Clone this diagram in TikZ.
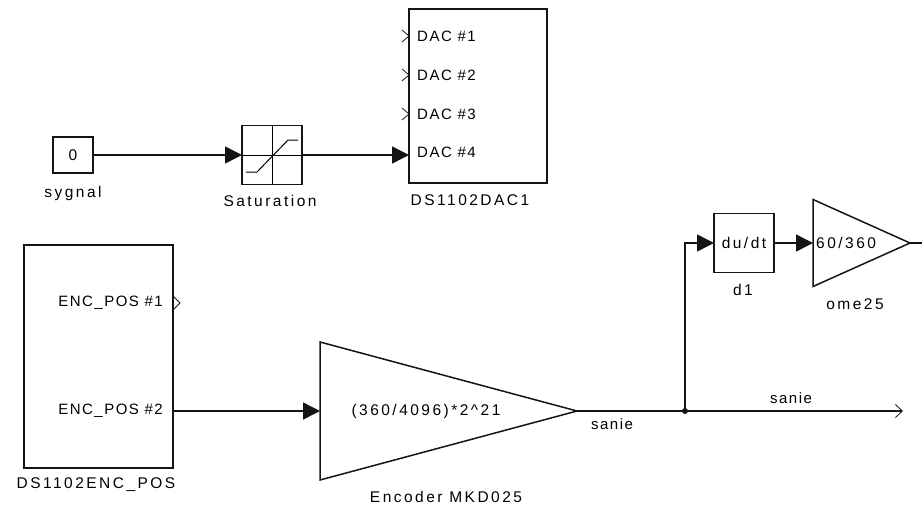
\documentclass[tikz,border=0pt]{standalone}
\usepackage{fontspec}
\usepackage{tikz}
\usetikzlibrary{arrows.meta,positioning,shapes.geometric}
\setmainfont{Liberation Sans}
\newfontfamily\blockfont[LetterSpace=10]{Liberation Sans}
\newfontfamily\capfont[LetterSpace=16]{Liberation Sans}
\definecolor{wire}{RGB}{20,20,20}
\tikzset{
  block/.style={draw=wire,line width=1.5pt,inner sep=0pt,outer sep=0pt,font=\capfont\fontsize{15.5}{17}\selectfont},
  gainblock/.style={draw=wire,line width=1.5pt,inner sep=0pt,outer sep=0pt,shape=isosceles triangle,
    isosceles triangle stretches,shape border rotate=0,anchor=lower side},
  captext/.style={inner sep=0pt,font=\capfont\fontsize{15.5}{17}\selectfont},
  lab/.style={inner sep=0pt,font=\blockfont\fontsize{15}{17}\selectfont},
  wireline/.style={line width=1.5pt,draw=wire},
  signal/.style={wireline,-{Triangle[length=17pt,width=17pt]}},
  openport/.style={draw=wire,line width=.8pt}
}
\begin{document}
\begin{tikzpicture}[>=Latex,x=1pt,y=-1pt]
\useasboundingbox (0,0) rectangle (922,504);
% upper row
\node[block,minimum width=40,minimum height=36] (sygnal) at (73,155) {0};
\node[captext] (sygnallab) at (73,193) {sygnal};
\node[block,minimum width=60,minimum height=59] (sat) at (272,155) {};
\node[captext] (satlab) at (270,201) {Saturation};
\node[block,minimum width=138,minimum height=174] (dac) at (478,96) {};
\node[captext] (daclab) at (470,200) {DS1102DAC1};
\foreach \y/\lab in {36/1,75/2,114/3,152/4} {
 \node[lab,right] (dac\lab) at (417,\y) {DAC \#\lab};
}
\foreach \y in {36,75,114} {
 \draw[openport] (402,\y-6)--(409,\y)--(402,\y+6);
}
\draw[line width=1pt] (sat.north)--(sat.south);
\draw[line width=1pt] (sat.west)--(sat.east);
\draw[line width=1pt] (246,172)--(257,172)--(288,140)--(298,140);
\draw[signal] (sygnal.east)--(sat.west);
\draw[signal] (sat.east)--(sat.east-|dac.west);
% lower row
\node[block,minimum width=149,minimum height=223] (enc) at (98.5,356.5) {};
\node[captext] (enclab) at (96,485) {DS1102ENC\_POS};
\node[lab,left] (enc1) at (163,303) {ENC\_POS \#1};
\node[lab,left] (enc2) at (163,411) {ENC\_POS \#2};
\draw[openport] (173,296)--(180,303)--(173,310);
\node[gainblock,minimum height=257,minimum width=138] (gainenc) at (320,411) {};
\node[captext] (gainlab) at (426,411) {(360/4096)*2\textasciicircum 21};
\node[captext] (gaincap) at (446,497) {Encoder MKD025};
\coordinate (enc2out) at (enc.east|-gainenc.lower side);
\draw[signal] (enc2out)--(gainenc.lower side);
\node[lab] (saniea) at (612,424) {sanie};
\coordinate (branch) at (685,411);
\coordinate (sanieend) at (903,411);
\draw[wireline] (gainenc.apex)--(branch);
\fill[wire] (branch) circle (3pt);
\draw[wireline,-{Straight Barb[length=7pt,width=13pt,line width=.8pt]}] (branch)--(sanieend);
\node[lab] (sanieb) at (791,398) {sanie};
\node[block,minimum width=60,minimum height=59] (d1) at (744,243) {du/dt};
\node[captext] (d1lab) at (743,290) {d1};
\draw[signal] (branch)|-(d1.west);
\node[gainblock,minimum height=97,minimum width=87] (gainome) at (813,243) {};
\node[captext,right] (omelab) at (816,243) {60/360};
\node[captext] (omecap) at (855,304) {ome25};
\draw[signal] (d1.east)--(gainome.lower side);
\coordinate (omeend) at (922,243);
\draw[wireline] (gainome.apex)--(omeend);
\end{tikzpicture}
\end{document}
